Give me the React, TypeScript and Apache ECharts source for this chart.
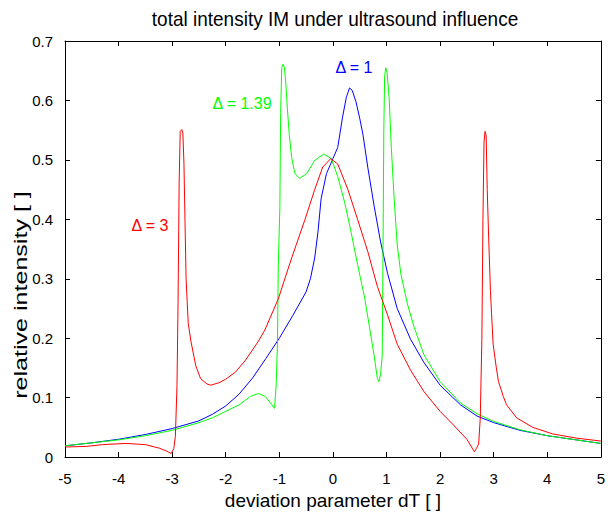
import React, { useEffect, useRef } from "react";
import * as echarts from "echarts";

// Δ = 1 (blue)
const blueX = [-5, -4.5, -4, -3.5, -3, -2.5, -2.25, -2, -1.75, -1.5, -1.25, -1.0, -0.75, -0.5, -0.42, -0.34, -0.28, -0.22, -0.12, 0, 0.09, 0.18, 0.25, 0.31, 0.36, 0.43, 0.5, 0.56, 0.65, 0.77, 0.89, 1.02, 1.2, 1.45, 1.7, 2.0, 2.38, 2.69, 3.0, 3.49, 4.0, 4.54, 5.0];
const blueY = [0.019, 0.024, 0.030, 0.038, 0.048, 0.061, 0.072, 0.086, 0.106, 0.133, 0.166, 0.200, 0.238, 0.278, 0.300, 0.335, 0.378, 0.435, 0.477, 0.502, 0.521, 0.572, 0.605, 0.621, 0.617, 0.598, 0.570, 0.543, 0.488, 0.422, 0.362, 0.309, 0.250, 0.198, 0.159, 0.121, 0.088, 0.069, 0.058, 0.045, 0.036, 0.029, 0.023];

// Δ = 1.39 (green)
const greenX = [-5, -4.5, -4, -3.5, -3, -2.5, -2.25, -2, -1.75, -1.54, -1.39, -1.26, -1.14, -1.09, -1.06, -1.035, -1.02, -0.99, -0.975, -0.955, -0.93, -0.905, -0.88, -0.85, -0.815, -0.77, -0.71, -0.62, -0.49, -0.34, -0.17, -0.03, 0.09, 0.22, 0.34, 0.46, 0.59, 0.68, 0.77, 0.83, 0.86, 0.89, 0.92, 0.935, 0.95, 0.965, 0.985, 1.01, 1.05, 1.09, 1.14, 1.2, 1.27, 1.39, 1.51, 1.7, 2.0, 2.38, 2.69, 3.0, 3.49, 4.0, 4.54, 5.0];
const greenY = [0.019, 0.024, 0.029, 0.036, 0.045, 0.058, 0.066, 0.077, 0.088, 0.102, 0.107, 0.102, 0.088, 0.082, 0.120, 0.190, 0.320, 0.420, 0.580, 0.655, 0.661, 0.655, 0.630, 0.587, 0.543, 0.504, 0.477, 0.469, 0.477, 0.499, 0.510, 0.502, 0.472, 0.428, 0.378, 0.324, 0.269, 0.220, 0.170, 0.132, 0.127, 0.140, 0.170, 0.350, 0.550, 0.640, 0.655, 0.648, 0.603, 0.521, 0.439, 0.357, 0.307, 0.258, 0.220, 0.172, 0.127, 0.091, 0.073, 0.060, 0.046, 0.036, 0.029, 0.023];

// Δ = 3 (red)
const redX = [-5, -4.6, -4.3, -3.86, -3.5, -3.24, -3.1, -3.02, -2.97, -2.94, -2.91, -2.89, -2.87, -2.85, -2.82, -2.80, -2.78, -2.76, -2.74, -2.72, -2.70, -2.65, -2.56, -2.47, -2.35, -2.28, -2.13, -2.0, -1.82, -1.64, -1.39, -1.27, -1.02, -0.77, -0.52, -0.34, -0.19, -0.04, 0.09, 0.28, 0.46, 0.65, 0.83, 1.02, 1.2, 1.45, 1.7, 2.0, 2.25, 2.5, 2.64, 2.68, 2.72, 2.75, 2.78, 2.80, 2.82, 2.84, 2.86, 2.88, 2.91, 2.94, 2.96, 2.99, 3.05, 3.09, 3.18, 3.24, 3.43, 3.73, 4.1, 4.54, 5.0];
const redY = [0.017, 0.018, 0.021, 0.023, 0.021, 0.015, 0.010, 0.006, 0.014, 0.035, 0.12, 0.26, 0.46, 0.548, 0.551, 0.545, 0.493, 0.395, 0.300, 0.262, 0.225, 0.195, 0.154, 0.132, 0.123, 0.121, 0.125, 0.131, 0.143, 0.162, 0.195, 0.214, 0.266, 0.335, 0.400, 0.450, 0.488, 0.502, 0.493, 0.450, 0.400, 0.346, 0.287, 0.239, 0.190, 0.146, 0.110, 0.077, 0.054, 0.030, 0.009, 0.015, 0.022, 0.066, 0.198, 0.40, 0.53, 0.548, 0.540, 0.45, 0.36, 0.28, 0.242, 0.190, 0.150, 0.127, 0.102, 0.088, 0.066, 0.050, 0.039, 0.032, 0.027];

const titleText = "total intensity IM under ultrasound influence";
const xName = "deviation parameter dT [ ]";
const yName = "relative intensity [ ]";
const labelBlue = "\u0394 = 1";
const labelGreen = "\u0394 = 1.39";
const labelRed = "\u0394 = 3";

const FONT = "'Liberation Sans', Arial, Helvetica, sans-serif";
const NARROW = "'Liberation Sans Narrow', 'Arial Narrow', 'Liberation Sans', sans-serif";

const pairs = (xs: number[], ys: number[]) => xs.map((x, i) => [x, ys[i]]);

export default function App() {
  const ref = useRef<HTMLDivElement>(null);
  useEffect(() => {
    if (!ref.current) return;
    const chart = echarts.init(ref.current, undefined, { renderer: "svg" });
    const axisLine = { show: true, onZero: false, lineStyle: { color: "#000", width: 1 } };
    const tick = { show: true, inside: true, length: 5, lineStyle: { color: "#000", width: 1 } };
    const line = (name: string, data: number[][], color: string) => ({
      name,
      type: "line",
      data,
      showSymbol: false,
      symbol: "none",
      lineStyle: { color, width: 1 },
      itemStyle: { color },
      xAxisIndex: 0,
      yAxisIndex: 0,
      z: 3,
    });
    chart.setOption({
      animation: false,
      backgroundColor: "#fff",
      grid: { left: 65, right: 3, top: 41, bottom: 48, containLabel: false },
      xAxis: [
        {
          type: "value", min: -5, max: 5, interval: 1, position: "bottom",
          axisLine, axisTick: tick, splitLine: { show: false },
          axisLabel: { color: "#000", fontSize: 15, fontFamily: NARROW, margin: 14 },
          name: xName, nameLocation: "middle", nameGap: 31,
          nameTextStyle: { color: "#000", fontSize: 19, fontFamily: FONT },
        },
        {
          type: "value", min: -5, max: 5, interval: 1, position: "top",
          axisLine, axisTick: tick, splitLine: { show: false }, axisLabel: { show: false },
        },
      ],
      yAxis: [
        {
          type: "value", min: 0, max: 0.7, interval: 0.1, position: "left",
          axisLine, axisTick: tick, splitLine: { show: false },
          axisLabel: {
            color: "#000", fontSize: 15, fontFamily: NARROW, margin: 12,
            formatter: (v: number) => (Math.abs(v) < 1e-9 ? "0" : v.toFixed(1)),
          },
        },
        {
          type: "value", min: 0, max: 0.7, interval: 0.1, position: "right",
          axisLine, axisTick: tick, splitLine: { show: false }, axisLabel: { show: false },
        },
      ],
      graphic: [
        {
          type: "text", x: 335, y: 19, scaleX: 0.95,
          style: { text: titleText, fill: "#000", font: `20px ${FONT}`, align: "center", verticalAlign: "middle" },
        },
        {
          type: "text", x: 21, y: 295, rotation: Math.PI / 2, scaleX: 1.32,
          style: { text: yName, fill: "#000", font: `19px ${FONT}`, align: "center", verticalAlign: "middle" },
        },
        {
          type: "text", x: 354, y: 67,
          style: { text: labelBlue, fill: "#0000ff", font: `16px ${FONT}`, align: "center", verticalAlign: "middle" },
        },
        {
          type: "text", x: 242, y: 103,
          style: { text: labelGreen, fill: "#00ff00", font: `16px ${FONT}`, align: "center", verticalAlign: "middle" },
        },
        {
          type: "text", x: 150, y: 225,
          style: { text: labelRed, fill: "#ff0000", font: `16px ${FONT}`, align: "center", verticalAlign: "middle" },
        },
      ],
      series: [
        line("Δ = 1", pairs(blueX, blueY), "#0000ff"),
        line("Δ = 1.39", pairs(greenX, greenY), "#00ff00"),
        line("Δ = 3", pairs(redX, redY), "#ff0000"),
      ],
    });
    return () => chart.dispose();
  }, []);
  return (
    <div
      ref={ref}
      style={{ position: "absolute", left: 0, top: 0, width: 608, height: 515, background: "#fff" }}
    />
  );
}
